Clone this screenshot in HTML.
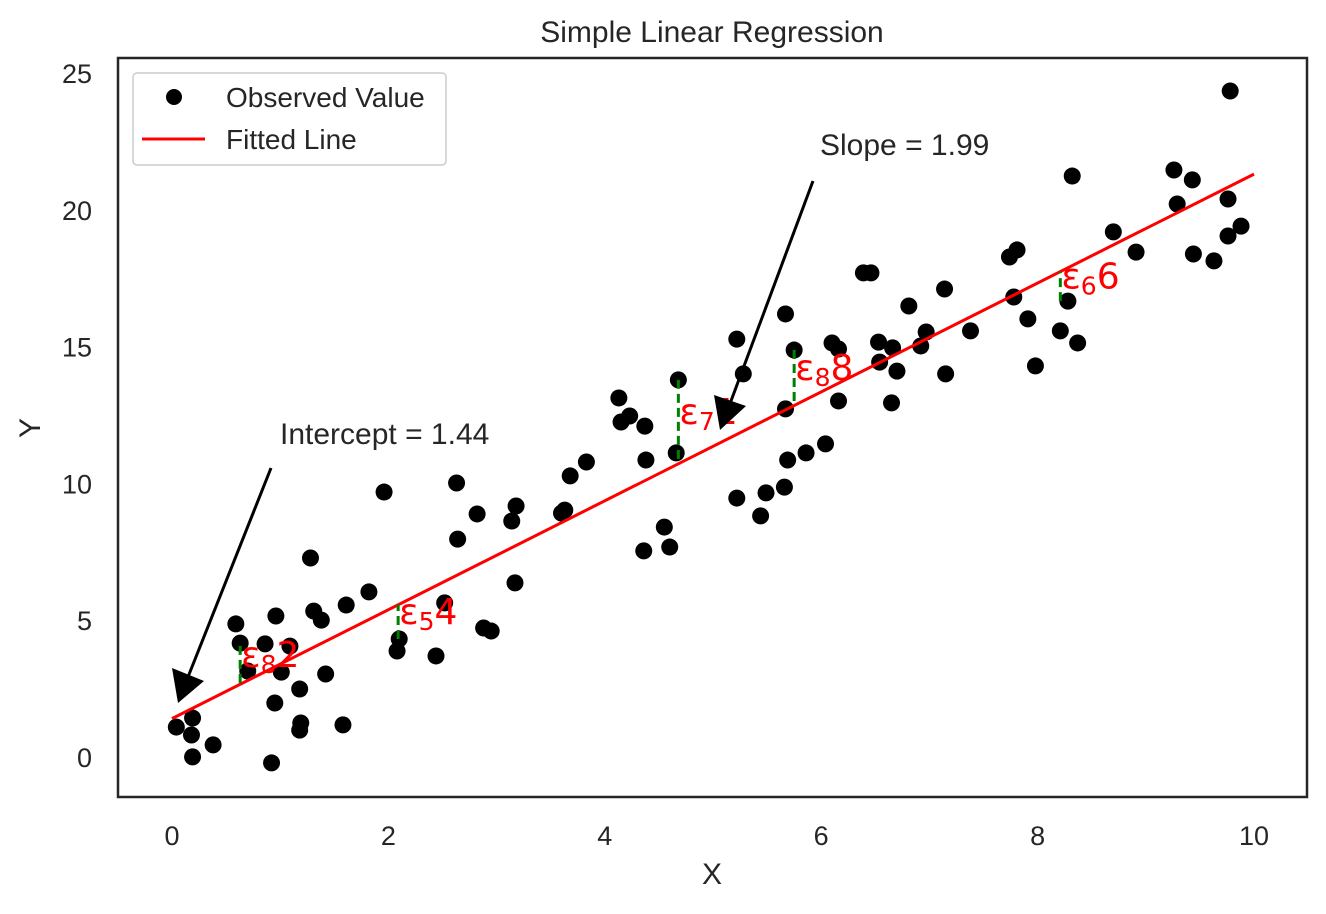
<!DOCTYPE html>
<html><head><meta charset="utf-8"><style>
body{margin:0;background:#fff;}
text{font-family:"Liberation Sans",Arial,sans-serif;fill:#262626;}
</style></head><body>
<svg id="chart" width="1326" height="909">
<rect x="0" y="0" width="1326" height="909" fill="#fff"/>
<g id="marks"></g>
<rect x="118" y="58" width="1189" height="739" fill="none" stroke="#262626" stroke-width="2.5"/>
<text x="712" y="42" font-size="30" text-anchor="middle">Simple Linear Regression</text>
<text x="712" y="884" font-size="30" text-anchor="middle">X</text>
<text x="40" y="428" font-size="30" text-anchor="middle" transform="rotate(-90 40 428)">Y</text>
<g id="xticks"></g><g id="yticks"></g>
<g>
<rect x="133" y="73" width="313" height="92" rx="4" fill="#fff" stroke="#ccc" stroke-width="1.5"/>
<circle cx="174" cy="97" r="8" fill="#000"/>
<text x="226" y="107" font-size="28">Observed Value</text>
<line x1="142" y1="139" x2="205" y2="139" stroke="red" stroke-width="3"/>
<text x="226" y="149" font-size="28">Fitted Line</text>
</g>
<g>
<text x="280" y="444" font-size="30">Intercept = 1.44</text>
<line x1="271" y1="468" x2="186" y2="682" stroke="#000" stroke-width="3"/>
<polygon points="178,703 172,668 204,681" fill="#000"/>
</g>
<g>
<text x="820" y="155" font-size="30">Slope = 1.99</text>
<line x1="813" y1="181" x2="728" y2="409" stroke="#000" stroke-width="3"/>
<polygon points="720,430 714,395 746,406" fill="#000"/>
</g>
</svg>
<script>
const xs=[0.04,0.18,0.19,0.19,0.38,0.59,0.63,0.70,0.86,0.96,1.01,0.95,0.92,1.09,1.18,1.18,1.19,1.28,1.31,1.38,1.42,1.58,1.61,1.82,1.96,2.08,2.10,2.44,2.52,2.63,2.64,2.82,2.88,2.95,3.14,3.18,3.17,3.60,3.63,3.68,3.83,4.13,4.15,4.23,4.37,4.38,4.36,4.55,4.60,4.66,4.68,5.22,5.22,5.28,5.44,5.49,5.66,5.67,5.67,5.69,5.75,5.86,6.04,6.10,6.16,6.16,6.39,6.46,6.53,6.54,6.65,6.66,6.70,6.81,6.92,6.97,7.14,7.15,7.38,7.74,7.78,7.81,7.91,7.98,8.21,8.28,8.32,8.37,8.70,8.91,9.26,9.29,9.43,9.44,9.63,9.76,9.76,9.78,9.88];
const ys=[1.13,0.84,1.46,0.04,0.48,4.90,4.20,3.18,4.17,5.19,3.14,2.01,-0.18,4.09,2.52,1.02,1.28,7.31,5.37,5.04,3.07,1.21,5.59,6.07,9.72,3.91,4.35,3.73,5.67,10.05,8.00,8.92,4.75,4.64,8.66,9.21,6.40,8.95,9.06,10.31,10.82,13.16,12.28,12.50,12.13,10.89,7.57,8.44,7.71,11.15,13.82,9.50,15.31,14.04,8.85,9.69,9.90,12.76,16.23,10.89,14.91,11.15,11.48,15.17,14.95,13.05,17.73,17.73,15.20,14.47,12.98,14.99,14.14,16.52,15.06,15.57,17.14,14.04,15.61,18.31,16.85,18.57,16.05,14.33,15.61,16.70,21.27,15.17,19.23,18.49,21.49,20.25,21.13,18.42,18.17,19.08,20.43,24.38,19.44];
const intercept=1.44, slope=1.99;
const resX=[0.63,2.09,4.68,5.75,8.21];
const resY=[4.10,4.35,13.82,14.91,16.70];
const resSub=["8","5","7","8","6"];
const resNum=["2","4","1","8","6"];
const xTicks=[0,2,4,6,8,10];
const yTicks=[0,5,10,15,20,25];
const sx=v=>172+v*108.2, sy=v=>758-v*27.36;
const NS="http://www.w3.org/2000/svg";
const mk=(t,a,p)=>{const e=document.createElementNS(NS,t);for(const k in a)e.setAttribute(k,a[k]);p.appendChild(e);return e;};
const g=document.getElementById('marks');
xs.forEach((x,i)=>{const c=mk('circle',{cx:sx(x),cy:sy(ys[i]),r:8.5,fill:'#000'},g);

});
const fl=mk('line',{x1:sx(0),y1:sy(intercept),x2:sx(10),y2:sy(intercept+slope*10),stroke:'red','stroke-width':3},g);


resX.forEach((x,i)=>{const yf=intercept+slope*x;
const l=mk('line',{x1:sx(x),y1:sy(resY[i]),x2:sx(x),y2:sy(yf),stroke:'green','stroke-width':3,'stroke-dasharray':'9,5'},g);


const t=mk('text',{x:sx(x)+1,y:sy((resY[i]+yf)/2)+2,'font-size':36,style:'fill:red;font-family:"DejaVu Sans",sans-serif'},g);


t.appendChild(document.createTextNode('ε'));
const s=document.createElementNS(NS,'tspan');s.setAttribute('font-size','25');s.setAttribute('dy','6');s.textContent=resSub[i];t.appendChild(s);
const n=document.createElementNS(NS,'tspan');n.setAttribute('dy','-6');n.textContent=resNum[i];t.appendChild(n);
});
const xt=document.getElementById('xticks');
xTicks.forEach(v=>{const t=mk('text',{x:sx(v),y:845,'font-size':27,'text-anchor':'middle'},xt);t.textContent=v;

});
const yt=document.getElementById('yticks');
yTicks.forEach(v=>{const t=mk('text',{x:92,y:sy(v)+9,'font-size':27,'text-anchor':'end'},yt);t.textContent=v;

});
</script>
</body></html>
